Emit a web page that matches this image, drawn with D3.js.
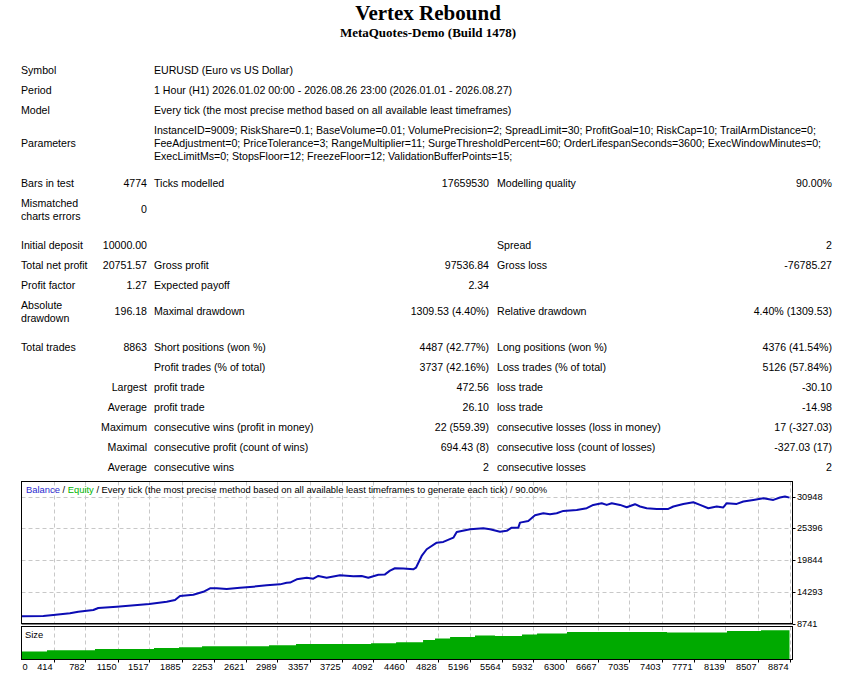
<!DOCTYPE html>
<html>
<head>
<meta charset="utf-8">
<script src="https://cdn.jsdelivr.net/npm/d3@7"></script>
<style>
  body { margin: 0; background: #fff; }
  svg { display: block; }
</style>
</head>
<body>
<svg id="report" width="856" height="676"></svg>
<script>
// ---------- report text ----------
const reportTitle = "Vertex Rebound";
const reportSubtitle = "MetaQuotes-Demo (Build 1478)";

const settingsLabels = ["Symbol", "Period", "Model", "Parameters"];
const settingsValues = [
  ["EURUSD (Euro vs US Dollar)"],
  ["1 Hour (H1) 2026.01.02 00:00 - 2026.08.26 23:00 (2026.01.01 - 2026.08.27)"],
  ["Every tick (the most precise method based on all available least timeframes)"],
  ["InstanceID=9009; RiskShare=0.1; BaseVolume=0.01; VolumePrecision=2; SpreadLimit=30; ProfitGoal=10; RiskCap=10; TrailArmDistance=0;",
   "FeeAdjustment=0; PriceTolerance=3; RangeMultiplier=11; SurgeThresholdPercent=60; OrderLifespanSeconds=3600; ExecWindowMinutes=0;",
   "ExecLimitMs=0; StopsFloor=12; FreezeFloor=12; ValidationBufferPoints=15;"]
];

// six columns: label, value, label, value, label, value
const statsRows = [
  ["Bars in test", "4774", "Ticks modelled", "17659530", "Modelling quality", "90.00%"],
  ["Mismatched\ncharts errors", "0", "", "", "", ""],
  ["Initial deposit", "10000.00", "", "", "Spread", "2"],
  ["Total net profit", "20751.57", "Gross profit", "97536.84", "Gross loss", "-76785.27"],
  ["Profit factor", "1.27", "Expected payoff", "2.34", "", ""],
  ["Absolute\ndrawdown", "196.18", "Maximal drawdown", "1309.53 (4.40%)", "Relative drawdown", "4.40% (1309.53)"],
  ["Total trades", "8863", "Short positions (won %)", "4487 (42.77%)", "Long positions (won %)", "4376 (41.54%)"],
  ["", "", "Profit trades (% of total)", "3737 (42.16%)", "Loss trades (% of total)", "5126 (57.84%)"],
  ["", "Largest", "profit trade", "472.56", "loss trade", "-30.10"],
  ["", "Average", "profit trade", "26.10", "loss trade", "-14.98"],
  ["", "Maximum", "consecutive wins (profit in money)", "22 (559.39)", "consecutive losses (loss in money)", "17 (-327.03)"],
  ["", "Maximal", "consecutive profit (count of wins)", "694.43 (8)", "consecutive loss (count of losses)", "-327.03 (17)"],
  ["", "Average", "consecutive wins", "2", "consecutive losses", "2"]
];

// ---------- chart data ----------
const xTickLabels = ["0", "414", "782", "1150", "1517", "1885", "2253", "2621", "2989", "3357",
  "3725", "4092", "4460", "4828", "5196", "5564", "5932", "6300", "6667", "7035",
  "7403", "7771", "8139", "8507", "8874"];
const yTickValues = [8741, 14293, 19844, 25396, 30948];

// balance curve (trade number, balance)
const balanceTrades = [0, 252, 367, 560, 656, 830, 887, 1100, 1477, 1678, 1774, 1831, 1985, 2101,
  2178, 2256, 2371, 2525, 2678, 2833, 2987, 3064, 3103, 3180, 3296, 3372, 3430, 3526, 3680, 3834,
  3931, 4007, 4123, 4200, 4258, 4315, 4412, 4527, 4558, 4624, 4682, 4798, 4874, 4990, 5029, 5183,
  5336, 5414, 5529, 5606, 5664, 5741, 5760, 5856, 5933, 6029, 6107, 6184, 6261, 6415, 6531, 6607,
  6704, 6762, 6820, 6916, 6993, 7089, 7147, 7224, 7340, 7474, 7532, 7647, 7763, 7840, 7936, 8033,
  8109, 8149, 8264, 8341, 8456, 8572, 8687, 8764, 8822, 8874];
const balanceValues = [10000, 10050, 10225, 10520, 10800, 11100, 11450, 11675, 12150, 12550, 12845,
  13540, 13770, 14290, 14890, 14890, 14770, 15000, 15180, 15410, 15585, 15865, 15900, 16470, 16750,
  16580, 17050, 16750, 17170, 17000, 17050, 16750, 17270, 17330, 17990, 18400, 18350, 18220, 18500,
  20550, 21720, 22880, 23000, 23750, 24750, 25220, 25400, 25220, 24800, 24940, 25500, 25500, 26380,
  26670, 27670, 28020, 27850, 28020, 28430, 28600, 28900, 29480, 29775, 29480, 29775, 29480, 29075,
  29600, 29200, 28900, 28780, 28780, 29200, 29650, 29950, 29480, 28900, 29200, 29030, 29775, 29650,
  30070, 30350, 30650, 30350, 30770, 30950, 30751];

// position size steps (trade number where the step starts, relative volume)
const sizeTrades = [0, 295, 849, 1531, 1820, 2086, 2860, 3172, 4039, 4328, 4640, 4778, 4952, 5240,
  5471, 5783, 5957, 6303, 7459, 8152, 8545, 8874];
const sizeVolumes = [0.24, 0.28, 0.32, 0.35, 0.37, 0.40, 0.43, 0.47, 0.49, 0.52, 0.59, 0.64, 0.68,
  0.73, 0.71, 0.76, 0.79, 0.83, 0.82, 0.86, 0.89, 0.89];

// ---------- drawing ----------
const svg = d3.select("#report");
const sans = "'Liberation Sans', Arial, sans-serif";
const serif = "'Liberation Serif', 'Times New Roman', serif";

// title
svg.append("text")
  .attr("x", 428).attr("y", 20)
  .attr("text-anchor", "middle")
  .attr("font-family", serif).attr("font-weight", "bold").attr("font-size", 21)
  .text(reportTitle);
svg.append("text")
  .attr("x", 428).attr("y", 37)
  .attr("text-anchor", "middle")
  .attr("font-family", serif).attr("font-weight", "bold").attr("font-size", 13)
  .text(reportSubtitle);

// table
const colX = [21, 147, 154, 489, 497, 832];
const table = svg.append("g")
  .attr("font-family", sans).attr("font-size", 10.6).attr("fill", "#000");

const settingsY = [70.7, 90, 110, 143.3];
const lineGap = 13.3;

settingsLabels.forEach(function (lab, i) {
  table.append("text")
    .attr("x", colX[0]).attr("y", settingsY[i]).attr("dy", "0.35em")
    .text(lab);
  let lines = settingsValues[i];
  lines.forEach(function (ln, j) {
    table.append("text")
      .attr("x", colX[2])
      .attr("y", settingsY[i] + (j - (lines.length - 1) / 2) * lineGap)
      .attr("dy", "0.35em")
      .text(ln);
  });
});

const statsY = [183.3, 209.5, 245, 265, 285, 311.7, 347.3, 367.3, 387.3, 407.3, 427.3, 447.3, 467.3];

statsRows.forEach(function (row, r) {
  row.forEach(function (cell, c) {
    if (!cell) return;
    let lines = cell.split("\n");
    let t = table.append("text")
      .attr("text-anchor", c % 2 === 1 ? "end" : "start");
    lines.forEach(function (ln, j) {
      t.append("tspan")
        .attr("x", colX[c])
        .attr("y", statsY[r] + (j - (lines.length - 1) / 2) * lineGap)
        .attr("dy", "0.35em")
        .text(ln);
    });
  });
});

// chart frames
const left = 21.5, right = 792.5;
const mainTop = 481.5, mainBottom = 623.5;
const sizeTop = 626.5, sizeBottom = 659.5;

const xIdx = d3.scaleLinear().domain([0, xTickLabels.length - 1]).range([21.5, 789.5]);
const xTrade = d3.scaleLinear().domain([0, 8874]).range([21.5, 789.5]);
const yMain = d3.scaleLinear().domain([8741, 30948]).range([mainBottom, 496.5]);
const ySize = d3.scaleLinear().domain([0, 1]).range([sizeBottom, sizeTop]);

svg.append("rect")
  .attr("x", left).attr("y", mainTop)
  .attr("width", right - left).attr("height", mainBottom - mainTop)
  .attr("fill", "#fff");

// grid, main panel
const grid = svg.append("g")
  .attr("stroke", "#c8c8c8").attr("stroke-width", 1).attr("stroke-dasharray", "4,3");
grid.selectAll("line.v")
  .data(d3.range(1, xTickLabels.length))
  .join("line")
  .attr("class", "v")
  .attr("x1", d => Math.round(xIdx(d)) + 0.5).attr("x2", d => Math.round(xIdx(d)) + 0.5)
  .attr("y1", mainTop).attr("y2", mainBottom);
grid.selectAll("line.h")
  .data(yTickValues.slice(1))
  .join("line")
  .attr("class", "h")
  .attr("x1", left).attr("x2", right)
  .attr("y1", d => Math.round(yMain(d)) + 0.5).attr("y2", d => Math.round(yMain(d)) + 0.5);
grid.selectAll("line.sv")
  .data(d3.range(1, xTickLabels.length))
  .join("line")
  .attr("class", "sv")
  .attr("x1", d => Math.round(xIdx(d)) + 0.5).attr("x2", d => Math.round(xIdx(d)) + 0.5)
  .attr("y1", sizeTop).attr("y2", sizeBottom);

// balance line
const balanceData = balanceTrades.map((t, i) => ({t: t, v: balanceValues[i]}));
svg.append("path")
  .datum(balanceData)
  .attr("fill", "none")
  .attr("stroke", "#0c0cb4")
  .attr("stroke-width", 2)
  .attr("stroke-linejoin", "round")
  .attr("d", d3.line().x(d => xTrade(d.t)).y(d => yMain(d.v)));

// size area
const sizeData = sizeTrades.map((t, i) => ({t: t, v: sizeVolumes[i]}));
svg.append("path")
  .datum(sizeData)
  .attr("fill", "#00aa00")
  .attr("d", d3.area().curve(d3.curveStepAfter)
    .x(d => xTrade(d.t)).y0(sizeBottom).y1(d => ySize(d.v)));

// frames
svg.append("rect")
  .attr("x", left).attr("y", mainTop)
  .attr("width", right - left).attr("height", mainBottom - mainTop)
  .attr("fill", "none").attr("stroke", "#000").attr("stroke-width", 1);
svg.append("line")
  .attr("x1", left).attr("x2", right).attr("y1", mainBottom + 0.5).attr("y2", mainBottom + 0.5)
  .attr("stroke", "#000");
svg.append("rect")
  .attr("x", left).attr("y", sizeTop)
  .attr("width", right - left).attr("height", sizeBottom - sizeTop)
  .attr("fill", "none").attr("stroke", "#000").attr("stroke-width", 1);

// y axis labels on the right
const yAxis = svg.append("g").attr("font-family", sans).attr("font-size", 9.2);
yAxis.selectAll("line")
  .data(yTickValues)
  .join("line")
  .attr("x1", right).attr("x2", right + 3)
  .attr("y1", d => Math.round(yMain(d)) + 0.5).attr("y2", d => Math.round(yMain(d)) + 0.5)
  .attr("stroke", "#000");
yAxis.selectAll("text")
  .data(yTickValues)
  .join("text")
  .attr("x", right + 4.5)
  .attr("y", d => yMain(d))
  .attr("dy", "0.35em")
  .text(d => d);

// x axis labels under the size panel
const xAxis = svg.append("g").attr("font-family", sans).attr("font-size", 9.2);
xAxis.selectAll("line")
  .data(d3.range(1, xTickLabels.length))
  .join("line")
  .attr("x1", d => Math.round(xIdx(d)) + 0.5).attr("x2", d => Math.round(xIdx(d)) + 0.5)
  .attr("y1", sizeBottom).attr("y2", sizeBottom + 3)
  .attr("stroke", "#000");
xAxis.selectAll("text")
  .data(xTickLabels)
  .join("text")
  .attr("x", (d, i) => i === 0 ? xIdx(i) + 1 : xIdx(i) - 1)
  .attr("y", 667)
  .attr("dy", "0.35em")
  .attr("text-anchor", (d, i) => i === 0 ? "start" : "end")
  .text(d => d);

// legend
const legend = svg.append("text")
  .attr("x", 26).attr("y", 490).attr("dy", "0.35em")
  .attr("font-family", sans).attr("font-size", 9.4);
legend.append("tspan").attr("fill", "#2a2ad0").text("Balance");
legend.append("tspan").attr("fill", "#000").text(" / ");
legend.append("tspan").attr("fill", "#00b400").text("Equity");
legend.append("tspan").attr("fill", "#000")
  .text(" / Every tick (the most precise method based on all available least timeframes to generate each tick) / 90.00%");

svg.append("text")
  .attr("x", 25).attr("y", 634.5).attr("dy", "0.35em")
  .attr("font-family", sans).attr("font-size", 9.4)
  .text("Size");
</script>
</body>
</html>
